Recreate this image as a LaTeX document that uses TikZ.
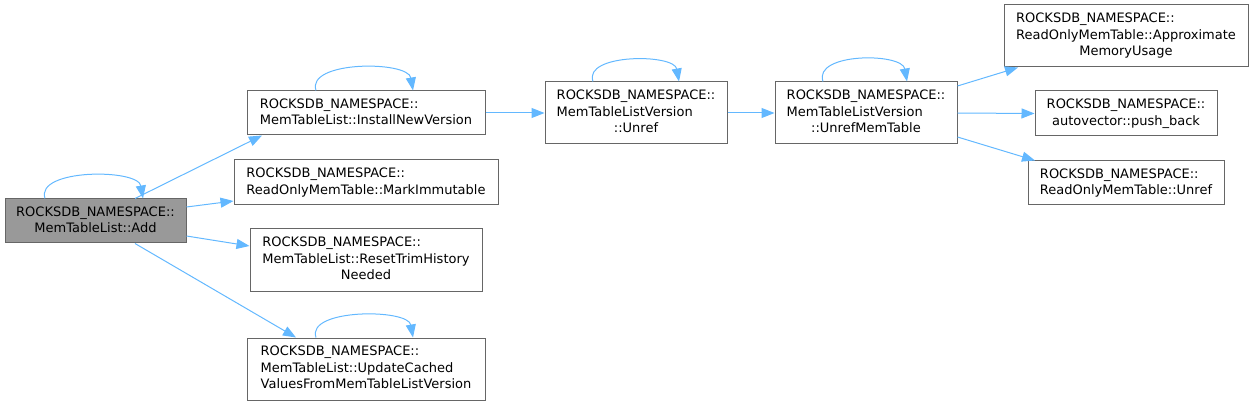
\documentclass[tikz,border=0pt]{standalone}
\usepackage{fontspec}
\setmainfont{DejaVu Sans}
\usetikzlibrary{arrows.meta,positioning}
\definecolor{edgeblue}{HTML}{63B8FF}
\definecolor{boxgray}{HTML}{666666}
\definecolor{curgray}{HTML}{999999}
\newcommand{\fnlbl}[2]{\begin{tabular}{@{}l@{}}#1\\\multicolumn{1}{@{}c@{}}{#2}\end{tabular}}
\tikzset{
  fn/.style={
    draw=boxgray,
    fill=white,
    line width=1pt,
    align=center,
    inner sep=0pt,
    font=\fontsize{13}{16.5}\selectfont
  },
  current/.style={
    fn,
    fill=curgray
  },
  call/.style={
    -{Triangle[length=13pt,width=10pt]},
    line width=1pt,
    edgeblue
  }
}
\begin{document}
\begin{tikzpicture}[x=1pt,y=-1pt]
\useasboundingbox (0,0) rectangle (1253,406);
\node[current,minimum width=181pt,minimum height=44pt] (add) at (95.5,221) {\fnlbl{ROCKSDB\_NAMESPACE::}{MemTableList::Add}};
\node[fn,minimum width=238pt,minimum height=44pt] (install) at (366,113) {\fnlbl{ROCKSDB\_NAMESPACE::}{MemTableList::InstallNewVersion}};
\node[fn,minimum width=264pt,minimum height=45pt] (markimm) at (366,182.5) {\fnlbl{ROCKSDB\_NAMESPACE::}{ReadOnlyMemTable::MarkImmutable}};
\node[fn,minimum width=232pt,minimum height=62pt] (resettrim) at (366,260) {\fnlbl{ROCKSDB\_NAMESPACE::\\MemTableList::ResetTrimHistory}{Needed}};
\node[fn,minimum width=238pt,minimum height=62pt] (updcached) at (366,369) {\fnlbl{ROCKSDB\_NAMESPACE::\\MemTableList::UpdateCached}{ValuesFromMemTableListVersion}};
\node[fn,minimum width=182pt,minimum height=62pt] (vunref) at (636,113) {\fnlbl{ROCKSDB\_NAMESPACE::\\MemTableListVersion}{::Unref}};
\node[fn,minimum width=182pt,minimum height=62pt] (unrefmt) at (866,113) {\fnlbl{ROCKSDB\_NAMESPACE::\\MemTableListVersion}{::UnrefMemTable}};
\node[fn,minimum width=244pt,minimum height=62pt] (approxmem) at (1126,36) {\fnlbl{ROCKSDB\_NAMESPACE::\\ReadOnlyMemTable::Approximate}{MemoryUsage}};
\node[fn,minimum width=182pt,minimum height=45pt] (pushback) at (1126,113.5) {\fnlbl{ROCKSDB\_NAMESPACE::}{autovector::push\_back}};
\node[fn,minimum width=196pt,minimum height=44pt] (romtunref) at (1126,183) {\fnlbl{ROCKSDB\_NAMESPACE::}{ReadOnlyMemTable::Unref}};
% self calls
\draw[call] ([xshift=-50.5pt]add.north) .. controls +(-10pt,30pt) and +(-5pt,30pt) .. ([xshift=47.5pt]add.north);
\draw[call] ([xshift=-50pt]install.north) .. controls +(-10pt,30pt) and +(-5pt,30pt) .. ([xshift=47pt]install.north);
\draw[call] ([xshift=-50pt]updcached.north) .. controls +(-10pt,29pt) and +(-5pt,29pt) .. ([xshift=47pt]updcached.north);
\draw[call] ([xshift=-43pt]vunref.north) .. controls +(-10pt,28pt) and +(-5pt,28pt) .. ([xshift=43pt]vunref.north);
\draw[call] ([xshift=-43pt]unrefmt.north) .. controls +(-10pt,29pt) and +(-5pt,29pt) .. ([xshift=41pt]unrefmt.north);
% calls
\draw[call] ([xshift=39.5pt]add.north) -- ([xshift=-104pt]install.south);
\draw[call] ([yshift=14pt]add.east) -- ([yshift=-18.5pt]markimm.west);
\draw[call] ([yshift=-15pt]add.east) -- ([yshift=14pt]resettrim.west);
\draw[call] ([xshift=39.5pt]add.south) -- ([xshift=-70pt]updcached.north);
\draw[call] (install.east) -- (vunref.west);
\draw[call] (vunref.east) -- (unrefmt.west);
\draw[call] ([yshift=27pt]unrefmt.east) -- ([xshift=-108pt]approxmem.south);
\draw[call] (unrefmt.east) -- (pushback.west);
\draw[call] ([yshift=-24pt]unrefmt.east) -- ([xshift=-91pt]romtunref.north);
\end{tikzpicture}
\end{document}
